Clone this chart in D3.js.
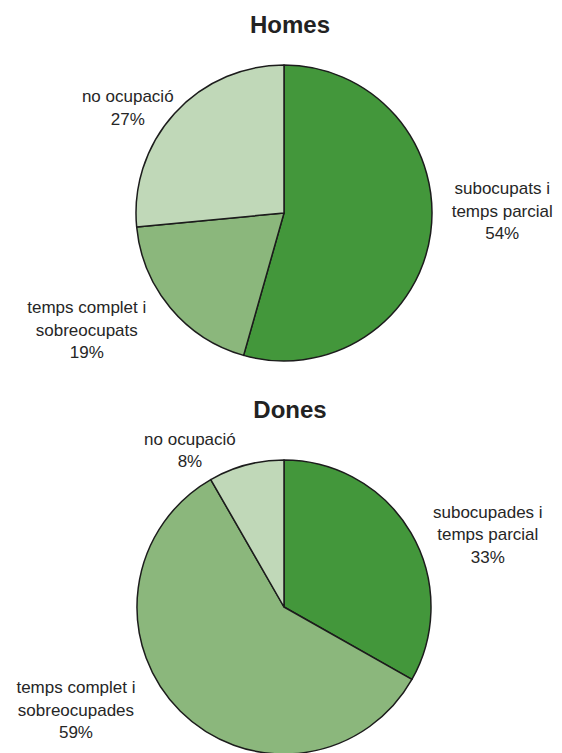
<!DOCTYPE html>
<html>
<head>
<meta charset="utf-8">
<script src="https://cdn.jsdelivr.net/npm/d3@7"></script>
<style>
  html, body { margin: 0; padding: 0; background: #fff; }
  svg { display: block; font-family: "Liberation Sans", Arial, sans-serif; }
</style>
</head>
<body>
<svg id="chart" width="562" height="753"></svg>
<script>
// ---- data ----
const chartTitles = ["Homes", "Dones"];
const homesCategories = [["subocupats i", "temps parcial"], ["temps complet i", "sobreocupats"], ["no ocupació"]];
const homesValues = [54.4, 19.1, 26.5];
const homesLabels = ["54%", "19%", "27%"];
const donesCategories = [["subocupades i", "temps parcial"], ["temps complet i", "sobreocupades"], ["no ocupació"]];
const donesValues = [33.2, 58.5, 8.3];
const donesLabels = ["33%", "59%", "8%"];

// ---- layout / style ----
const colors = ["#43973b", "#8bb77c", "#c0d8b8"];
const layouts = [
  { cx: 284, cy: 213, r: 148, titleY: 33, nudges: [[13, -31], [-38, -16], [-3, 34]] },
  { cx: 284, cy: 607, r: 147, titleY: 418, nudges: [[26, 31], [-63, -43], [-41, 42]] }
];
const titleX = 290;
const labelFont = 17;
const lineH = 22.5;

const svg = d3.select("#chart");
const datasets = [
  { cats: homesCategories, vals: homesValues, labels: homesLabels },
  { cats: donesCategories, vals: donesValues, labels: donesLabels }
];

datasets.forEach((ds, i) => {
  const L = layouts[i];
  const pie = d3.pie().sort(null).value(d => d)(ds.vals);
  const arc = d3.arc().innerRadius(0).outerRadius(L.r);
  const labelArc = d3.arc().innerRadius(L.r * 1.4).outerRadius(L.r * 1.4);

  svg.append("text")
    .attr("x", titleX).attr("y", L.titleY)
    .attr("text-anchor", "middle")
    .attr("font-size", 24).attr("font-weight", "bold")
    .attr("fill", "#222")
    .text(chartTitles[i]);

  const g = svg.append("g").attr("transform", `translate(${L.cx},${L.cy})`);
  g.selectAll("path").data(pie).join("path")
    .attr("d", arc)
    .attr("fill", (d, j) => colors[j])
    .attr("stroke", "#1c1c1c")
    .attr("stroke-width", 1.5)
    .attr("stroke-linejoin", "round");

  pie.forEach((d, j) => {
    const c = labelArc.centroid(d);
    const x = c[0] + L.nudges[j][0];
    const y = c[1] + L.nudges[j][1];
    const lines = ds.cats[j].concat([ds.labels[j]]);
    const n = lines.length;
    const t = g.append("text")
      .attr("text-anchor", "middle")
      .attr("font-size", labelFont)
      .attr("fill", "#262626");
    lines.forEach((ln, k) => {
      t.append("tspan")
        .attr("x", x)
        .attr("y", y - (n - 1) * lineH / 2 + k * lineH + labelFont * 0.35)
        .text(ln);
    });
  });
});
</script>
</body>
</html>
